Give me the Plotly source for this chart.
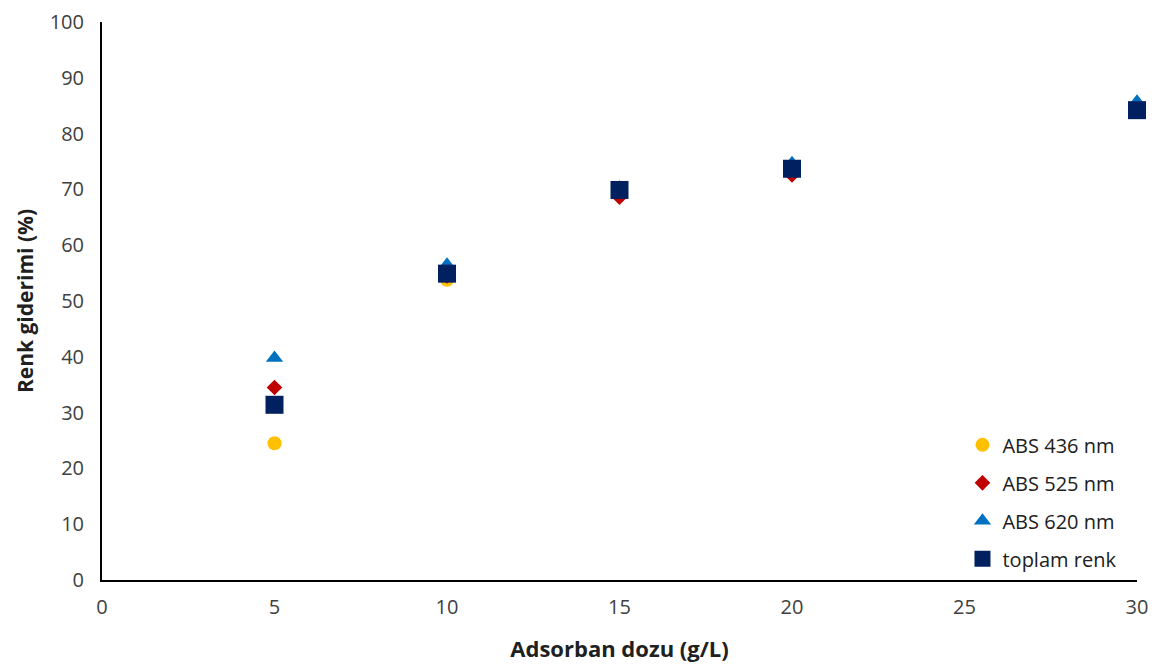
import plotly.graph_objects as go

x_vals = [5, 10, 15, 20, 30]
abs436 = [24.5, 53.8, 70.0, 73.5, 84.0]
abs525 = [34.5, 54.5, 68.6, 72.6, 84.0]
abs620 = [39.8, 56.5, 70.3, 74.7, 85.7]
toplam = [31.4, 54.9, 69.9, 73.7, 84.2]

names = ["ABS 436 nm", "ABS 525 nm", "ABS 620 nm", "toplam renk"]
colors = ["#FFC000", "#C00000", "#0070C0", "#002060"]
symbols = ["circle", "diamond", "triangle-up", "square"]
sizes = [14, 12, 15, 18]
series = [abs436, abs525, abs620, toplam]

fig = go.Figure()
for i, (n, c, s, sz, y) in enumerate(zip(names, colors, symbols, sizes, series)):
    fig.add_trace(go.Scatter(x=x_vals, y=y, mode="markers", name=n, legendgroup=f"g{i}",
                             cliponaxis=False,
                             marker=dict(color=c, symbol=s, size=sz, line=dict(width=0))))

font_fam = "Open Sans, Lato, sans-serif"
fig.update_layout(
    width=1140, height=655,
    margin=dict(l=94, r=11, t=14, b=83),
    paper_bgcolor="white", plot_bgcolor="white",
    font=dict(family=font_fam, size=20, color="#404040"),
    xaxis=dict(range=[0, 30], tickvals=[0, 5, 10, 15, 20, 25, 30], showgrid=False,
               zeroline=False, showline=True, linecolor="black", linewidth=2,
               ticks="", tickfont=dict(size=20, color="#404040"), automargin=False,
               ticklabelstandoff=8, ticklabeloverflow="allow",
               title=dict(text="<b>Adsorban dozu (g/L)</b>", font=dict(size=22, color="#202020"), standoff=24)),
    yaxis=dict(range=[0, 100], tickvals=list(range(0, 101, 10)), showgrid=False,
               zeroline=False, showline=True, linecolor="black", linewidth=2,
               ticks="", tickfont=dict(size=20, color="#404040"), ticklabelstandoff=12,
               automargin=False, ticklabeloverflow="allow",
               title=dict(text="<b>Renk giderimi (%)</b>", font=dict(size=21, color="#202020"), standoff=10)),
    legend=dict(x=0.985, y=0.003, xanchor="right", yanchor="bottom",
                bgcolor="rgba(255,255,255,0)", font=dict(size=20, color="#202020"),
                traceorder="grouped", tracegroupgap=9, itemwidth=30),
    showlegend=True,
)
fig.write_html("out.html")
